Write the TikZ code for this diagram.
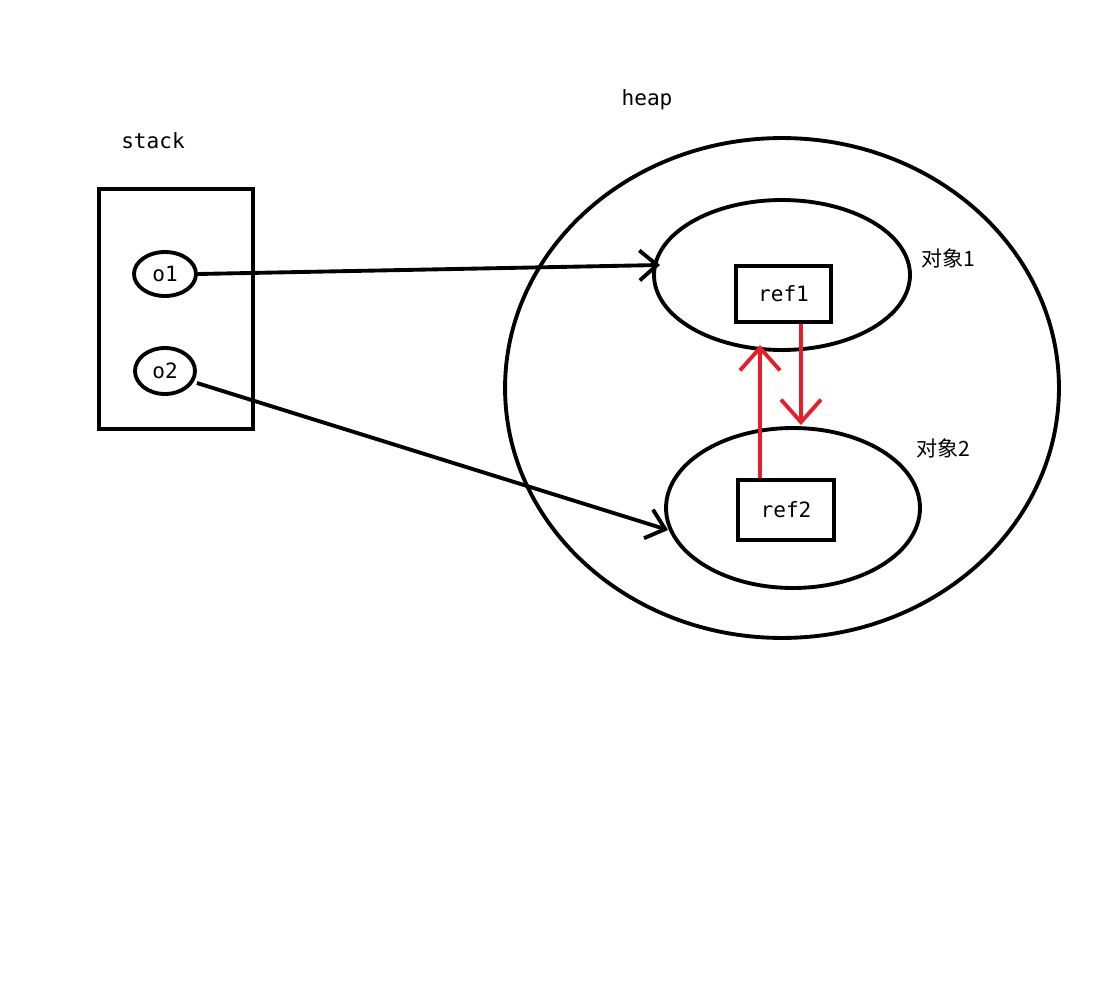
\documentclass[tikz,border=0pt]{standalone}
\usepackage{fontspec}
\setmonofont{DejaVu Sans Mono}
\newfontfamily\cjk{Noto Sans CJK SC}
\usetikzlibrary{arrows.meta,positioning,shapes.geometric}

\tikzset{
  thickline/.style={line width=2.2pt},
  label/.style={font=\ttfamily\large},
  obj/.style={draw,thickline,ellipse,inner sep=0pt},
  refbox/.style={draw,thickline,rectangle,inner sep=0pt,font=\ttfamily\large},
  link/.style={thickline,-{Straight Barb[length=3.5mm,width=6mm]}},
  redlink/.style={thickline,-{Straight Barb[length=4.5mm,width=8mm]},draw={rgb,255:red,230;green,30;blue,40}}
}

\begin{document}
\begin{tikzpicture}[x=0.02cm,y=-0.02cm]
\useasboundingbox (0,0) rectangle (1111,1000);

% stack
\node[label] (stacklabel) at (153,141) {stack};
\draw[thickline] (99,189) rectangle (253,429);
\node[obj,label,minimum width=1.24cm,minimum height=0.88cm] (o1) at (165,274) {o1};
\node[obj,label,minimum width=1.2cm,minimum height=0.92cm] (o2) at (165,371) {o2};

% heap
\node[label] (heaplabel) at (647,100) {heap};
\node[obj,minimum width=11.08cm,minimum height=10cm] (heap) at (782,388) {};
\node[obj,minimum width=5.12cm,minimum height=3cm] (obj1) at (782,275) {};
\node[obj,minimum width=5.08cm,minimum height=3.2cm] (obj2) at (793,508) {};
\node[font=\cjk\large] (obj1label) at (948,258) {对象1};
\node[font=\cjk\large] (obj2label) at (943,448) {对象2};
\node[refbox,minimum width=1.9cm,minimum height=1.12cm] (ref1) at (783.5,294) {ref1};
\node[refbox,minimum width=1.92cm,minimum height=1.2cm] (ref2) at (786,510) {ref2};

% liens
\coordinate (in1) at (660,265);
\coordinate (in2) at (668,530);
\draw[link] (o1.east) -- (in1);
\draw[link] (o2.east) ++(0,12) -- (in2);
\draw[redlink] (ref2.north -| 760,0) -- (760,345);
\draw[redlink] (ref1.south -| 801,0) -- (801,425);
\end{tikzpicture}
\end{document}
